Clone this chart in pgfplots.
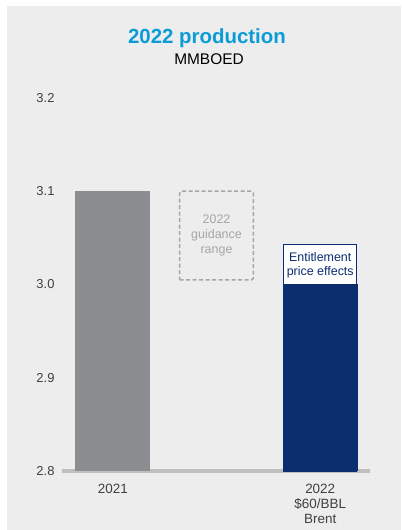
\documentclass[border=0pt]{standalone}
\usepackage{pgfplots}
\pgfplotsset{compat=1.18}
\usepackage{fontspec}
\setmainfont{Liberation Sans}
\definecolor{panel}{HTML}{EDEDED}
\definecolor{barg}{HTML}{8B8D91}
\definecolor{navy}{HTML}{0C2D6E}
\definecolor{titleblue}{HTML}{0A9CD8}
\definecolor{ticktext}{HTML}{404040}
\definecolor{axisgray}{HTML}{BFBFBF}
\definecolor{dashgray}{HTML}{A6A6A6}
\begin{document}
\begin{tikzpicture}
\fill[white] (0,0) rectangle (402bp,530bp);
\fill[panel] (7bp,0) rectangle (401bp,524bp);
\node[font=\fontsize{20.5}{24}\selectfont\bfseries, text=titleblue] at (207bp,492bp) {2022 production};
\node[font=\fontsize{15.5}{18}\selectfont, text=black] at (209bp,471bp) {MMBOED};
\begin{axis}[
  at={(62bp,59bp)}, anchor=south west,
  scale only axis, width=308bp, height=373bp,
  xmin=-0.49, xmax=2.48, ymin=2.8, ymax=3.2,
  axis x line*=bottom, axis y line*=left,
  y axis line style={draw=none},
  x axis line style={-, draw=axisgray, line width=3bp},
  tick style={draw=none},
  xtick={0,2}, xticklabels={2021, {2022\\\$60/BBL\\Brent}},
  xticklabel style={align=center, font=\fontsize{13.5}{15}\selectfont, text=ticktext, yshift=-10bp},
  ytick={2.8,2.9,3.0,3.1,3.2},
  yticklabel style={font=\fontsize{13}{15}\selectfont, text=ticktext, xshift=-4bp},
  /pgf/number format/assume math mode=true,
  /pgf/number format/fixed, /pgf/number format/fixed zerofill, /pgf/number format/precision=1,
  clip=false,
]
\addplot[ybar, bar width=75bp, bar shift=0pt, fill=barg, draw=none] coordinates {(0,3.1)};
\addplot[ybar, bar width=73bp, bar shift=0pt, fill=white, draw=navy, line width=1.5bp] coordinates {(2,3.043)};
\addplot[ybar, bar width=75bp, bar shift=0pt, fill=navy, draw=none] coordinates {(2,3.0)};
\addplot[dashed, draw=dashgray, line width=1.5bp, rounded corners=2bp, dash pattern=on 4bp off 2.5bp] coordinates {(0.645,3.005) (1.355,3.005) (1.355,3.1) (0.645,3.1) (0.645,3.005)};
\node[align=center, font=\fontsize{12.5}{15}\selectfont, text=dashgray] at (axis cs:1,3.053) {2022\\guidance\\range};
\node[align=center, font=\fontsize{12.5}{14}\selectfont, text=navy] at (axis cs:2,3.0205) {Entitlement\\price effects};
\end{axis}
\end{tikzpicture}
\end{document}
